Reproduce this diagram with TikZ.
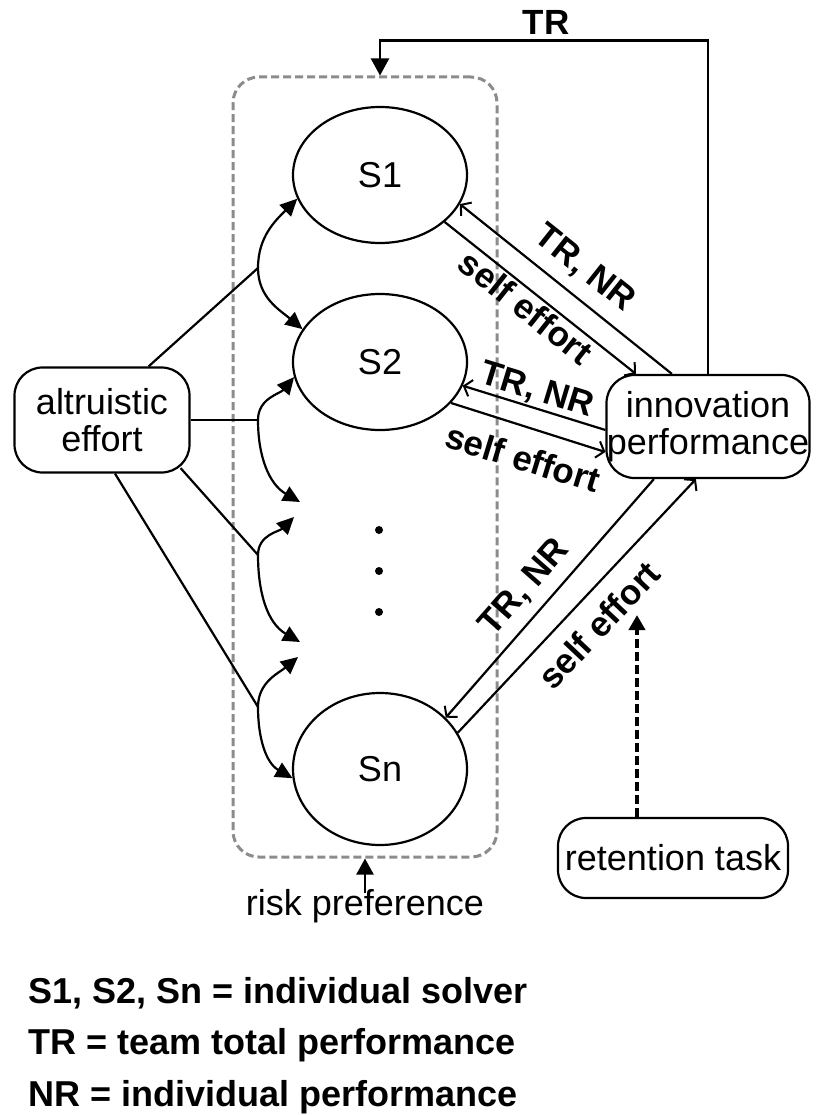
\documentclass[tikz,border=0pt]{standalone}
\usepackage{fontspec}
\setmainfont{Liberation Sans}
\usetikzlibrary{shapes.geometric,arrows.meta,calc}
\begin{document}
\begin{tikzpicture}[x=1pt,y=1pt,
  txt/.style={font=\fontsize{36}{37}\selectfont},
  lbl/.style={font=\bfseries\fontsize{35}{38}\selectfont, inner sep=0},
  legend/.style={font=\bfseries\fontsize{36}{38}\selectfont, inner sep=0, anchor=base west},
  solver/.style={ellipse, draw, line width=2.2pt, minimum width=174, minimum height=136, inner sep=0, txt},
  box/.style={draw, line width=2.2pt, rounded corners=28pt, align=center, inner sep=0, txt},
  group/.style={draw=black!45, line width=3pt, dash pattern=on 8pt off 4pt, rounded corners=26pt,
                minimum width=264, minimum height=780, inner sep=0},
  dot/.style={circle, fill, inner sep=0, minimum size=8pt},
  wire/.style={line width=2.2pt},
  ftip/.style={-{Triangle[length=17pt,width=16pt]}},
  barb/.style={-{Straight Barb[length=7pt,width=17pt,line width=2pt]}},
]
\fill[white] (0,0) rectangle (815,-1115);
\useasboundingbox (0,0) rectangle (815,-1115);

% solver group
\node[group] (grp) at (365,-467) {};
\node[solver] (s1) at (380,-175) {S1};
\node[solver] (s2) at (380,-362) {S2};
\node[solver, minimum height=152] (sn) at (380,-769) {Sn};
\node[dot] (d1) at (379,-530) {};
\node[dot] (d2) at (379,-571) {};
\node[dot] (d3) at (379,-612) {};

% side boxes
\node[box, minimum width=175, minimum height=105] (alt) at (102,-420) {altruistic\\effort};
\node[box, minimum width=203, minimum height=103] (inn) at (708,-426.5) {innovation\\performance};
\node[box, minimum width=230, minimum height=80] (ret) at (673,-858) {retention task};
\node[txt, anchor=base] (rp) at (365,-915) {risk preference};
\node[lbl] (trl) at (546,-22) {TR};

% team reward feedback
\draw[wire, -{Triangle[length=17pt,width=18pt]}] (inn.north) |- ($(grp.north)+(15,35)$) -- ($(grp.north)+(15,0)$);
% risk preference
\draw[wire, -{Triangle[length=16pt,width=17pt]}] ($(rp.base)+(0,22)$) -- (grp.south);
% retention task
\coordinate (rt) at (637,-615);
\draw[line width=4.5pt, dash pattern=on 9pt off 4pt, -{Triangle[length=15pt,width=16pt]}] ($(ret.north)+(-36,0)$) -- (rt);

% solver <-> innovation performance
\draw[wire, barb] ($(inn.north west)+(66.5,0)$) -- (s1.-20.5);
\draw[wire, barb] (s1.-36) -- ($(inn.north west)+(30.5,0)$);
\draw[wire, barb] ($(inn.west)+(0,-3.5)$) -- (s2.-16);
\draw[wire, barb] (s2.-30) -- ($(inn.west)+(0,-25.5)$);
\draw[wire, barb] ($(inn.south west)+(48.5,0)$) -- (sn.38.7);
\draw[wire, barb] (sn.25) -- ($(inn.south west)+(90.5,0)$);

\node[lbl, rotate=-38.5] (l1a) at (584,-269) {TR, NR};
\node[lbl, rotate=-38.5] (l1b) at (526,-307) {self effort};
\node[lbl, rotate=-17] (l2a) at (537,-391) {TR, NR};
\node[lbl, rotate=-17] (l2b) at (523,-458) {self effort};
\node[lbl, rotate=48.6] (l3a) at (525,-588) {TR, NR};
\node[lbl, rotate=46.7] (l3b) at (599,-625) {self effort};

% altruistic effort spreading to solvers
\coordinate (j1) at (258,-268);
\coordinate (j2) at (258,-420);
\coordinate (j3) at (258,-555);
\coordinate (j4) at (258,-707);
\coordinate (e1) at (300,-502);
\coordinate (e2) at (294,-517);
\coordinate (e3) at (300,-642);
\coordinate (e4) at (298,-657);

\draw[wire] ($(alt.north east)+(-42,0)$) -- (j1);
\draw[wire] (alt.east) -- (j2);
\draw[wire] ($(alt.south east)+(-10,5.5)$) -- (j3);
\draw[wire] ($(alt.south)+(13,0)$) -- (j4);

\draw[wire, ftip] (j1) to[out=90,in=225] (s1.196);
\draw[wire, ftip] (j1) to[out=-90,in=140] (s2.157);
\draw[wire, ftip] (j2) to[out=90,in=230] (s2.190);
\draw[wire, ftip] (j2) to[out=-90,in=150] (e1);
\draw[wire, ftip] (j3) to[out=90,in=225] (e2);
\draw[wire, ftip] (j3) to[out=-90,in=150] (e3);
\draw[wire, ftip] (j4) to[out=90,in=220] (e4);
\draw[wire, ftip] (j4) to[out=-90,in=150] (sn.186);

% legend
\node[legend] (lg1) at (28,-1003) {S1, S2, Sn = individual solver};
\node[legend] (lg2) at (28,-1054) {TR = team total performance};
\node[legend] (lg3) at (28,-1106) {NR = individual performance};
\end{tikzpicture}
\end{document}
